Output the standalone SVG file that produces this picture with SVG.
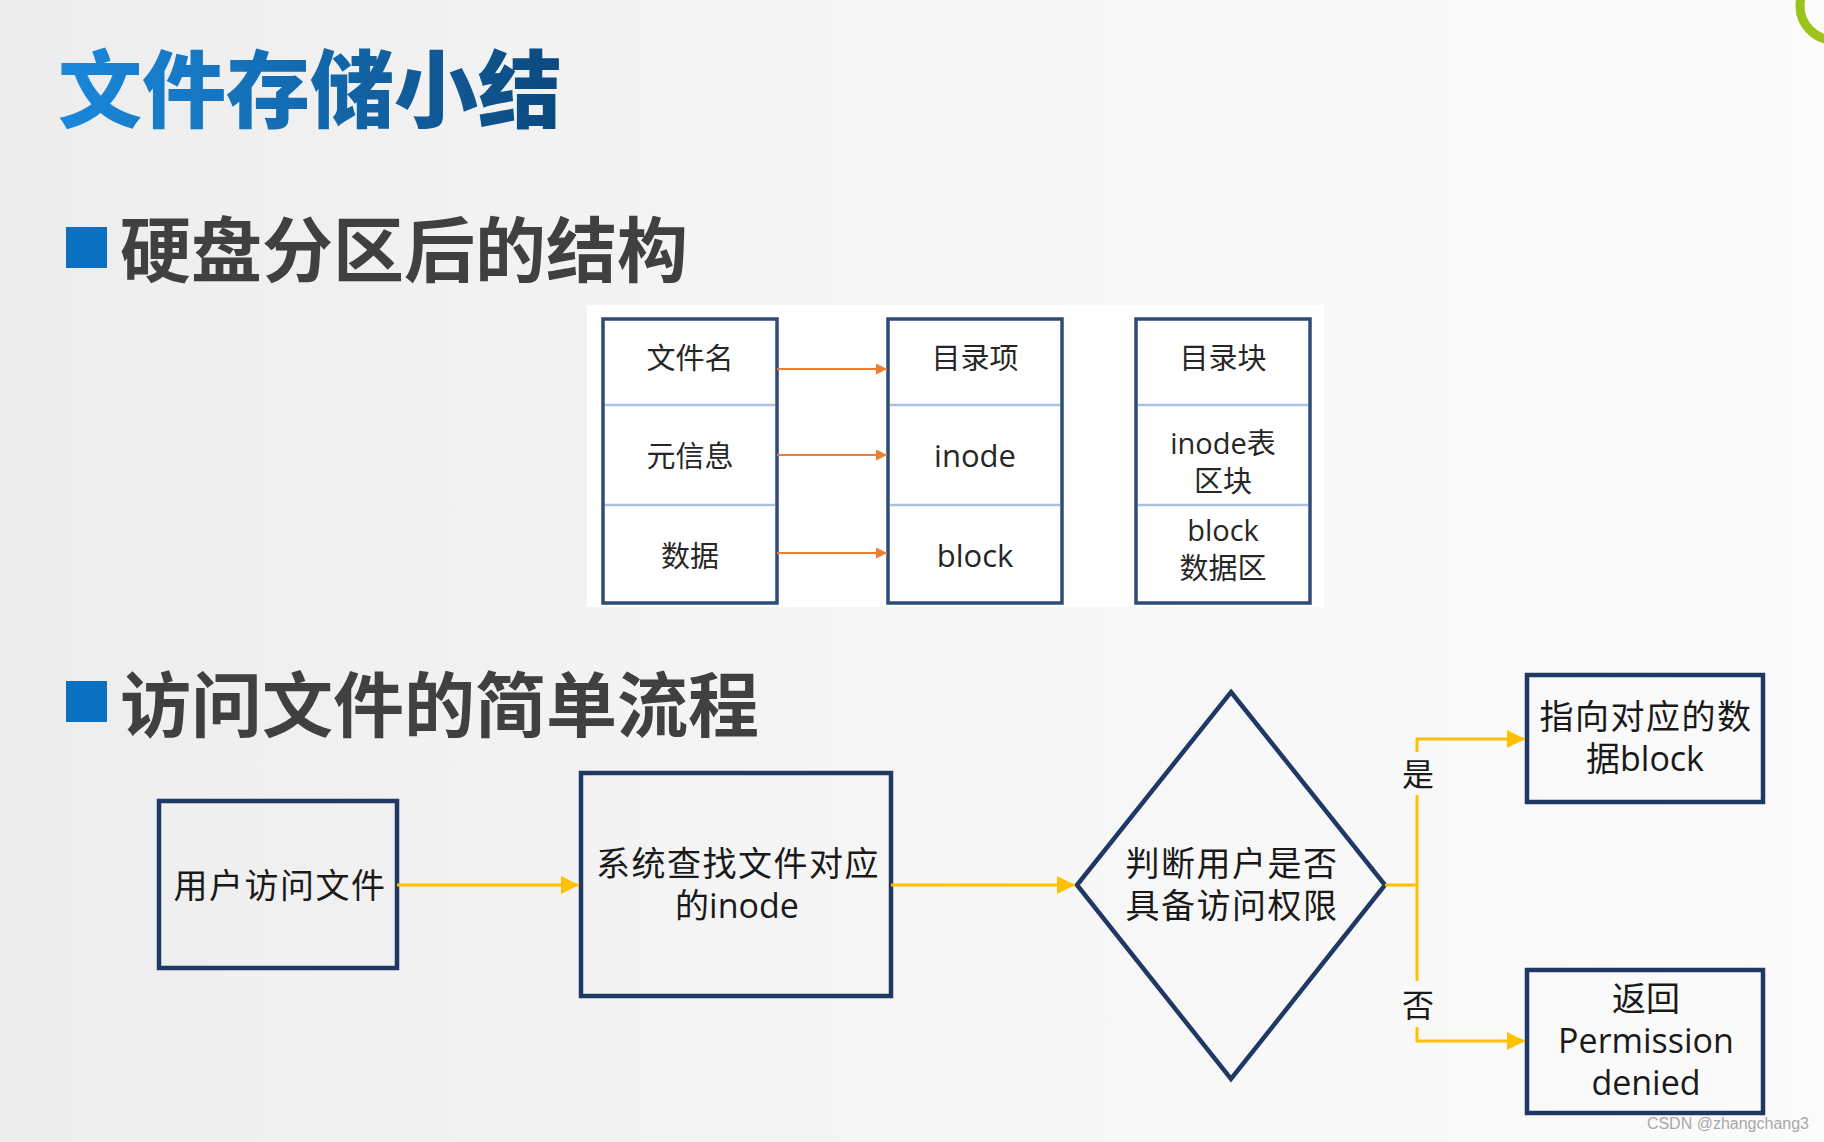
<svg xmlns="http://www.w3.org/2000/svg" width="1824" height="1142" viewBox="0 0 1824 1142">
  <defs>
    <linearGradient id="bg" x1="0" y1="0" x2="1" y2="0">
      <stop offset="0" stop-color="#ededed"/>
      <stop offset="0.5" stop-color="#f6f6f6"/>
      <stop offset="1" stop-color="#fbfbfb"/>
    </linearGradient>
    <linearGradient id="titleGrad" gradientUnits="userSpaceOnUse" x1="60" y1="0" x2="556" y2="0">
      <stop offset="0" stop-color="#1a88dc"/>
      <stop offset="1" stop-color="#0c4a80"/>
    </linearGradient>
    <marker id="arrOrange" viewBox="0 0 10 10" refX="10" refY="5" markerWidth="11" markerHeight="11" markerUnits="userSpaceOnUse" orient="auto">
      <path d="M0,0 L10,5 L0,10 z" fill="#ed7d31"/>
    </marker>
    <marker id="arrYellow" viewBox="0 0 10 10" refX="10" refY="5" markerWidth="18" markerHeight="18" markerUnits="userSpaceOnUse" orient="auto">
      <path d="M0,0 L10,5 L0,10 z" fill="#ffc000"/>
    </marker>
    <style>
      .h1 { font-family: "Noto Sans CJK SC", sans-serif; font-weight: 900; font-size: 84px; }
      .h2 { font-family: "Noto Sans CJK SC", sans-serif; font-weight: 700; font-size: 71px; fill: #404040; }
      .bullet { fill: #0b70c0; }
      .cell { fill: #ffffff; stroke: #2f4b78; stroke-width: 3.5; }
      .div { stroke: #a9c1de; stroke-width: 2.5; }
      .tt { font-family: "Open Sans", "Noto Sans CJK SC", sans-serif; font-size: 29px; fill: #262626; text-anchor: middle; dominant-baseline: central; }
      .tl { font-size: 31px; }
      .ts { font-size: 29px; }
      .box { fill: none; stroke: #1f3864; stroke-width: 4.5; }
      .ft { font-family: "Open Sans", "Noto Sans CJK SC", sans-serif; font-size: 34px; fill: #1a1a1a; text-anchor: middle; dominant-baseline: central; }
      .ls { letter-spacing: 1.5px; }
      .oline { stroke: #ed7d31; stroke-width: 2; fill: none; marker-end: url(#arrOrange); }
      .yline { stroke: #ffc000; stroke-width: 3; fill: none; }
      .yarr { marker-end: url(#arrYellow); }
      .lbl { font-family: "Noto Sans CJK SC", sans-serif; font-size: 32px; fill: #1a1a1a; text-anchor: middle; dominant-baseline: central; }
    </style>
  </defs>

  <rect x="0" y="0" width="1824" height="1142" fill="url(#bg)"/>
  <circle cx="1834" cy="6" r="34" fill="none" stroke="#9cc31b" stroke-width="9"/>

  <text class="h1" x="58" y="121" fill="url(#titleGrad)">文件存储小结</text>

  <rect class="bullet" x="66" y="227" width="41" height="41"/>
  <text class="h2" x="120" y="276">硬盘分区后的结构</text>

  <rect class="bullet" x="66" y="681" width="41" height="41"/>
  <text class="h2" x="120" y="731">访问文件的简单流程</text>

  <rect x="587" y="305" width="737" height="302" fill="#ffffff"/>

  <g id="table-file">
    <rect class="cell" x="603" y="319" width="174" height="284"/>
    <line class="div" x1="605" y1="405" x2="775" y2="405"/>
    <line class="div" x1="605" y1="505" x2="775" y2="505"/>
    <text class="tt" x="690" y="357">文件名</text>
    <text class="tt" x="690" y="455">元信息</text>
    <text class="tt" x="690" y="555">数据</text>
  </g>

  <g id="table-struct">
    <rect class="cell" x="888" y="319" width="174" height="284"/>
    <line class="div" x1="890" y1="405" x2="1060" y2="405"/>
    <line class="div" x1="890" y1="505" x2="1060" y2="505"/>
    <text class="tt" x="975" y="357">目录项</text>
    <text class="tt tl" x="975" y="455">inode</text>
    <text class="tt tl" x="975" y="555">block</text>
  </g>

  <g id="table-disk">
    <rect class="cell" x="1136" y="319" width="174" height="284"/>
    <line class="div" x1="1138" y1="405" x2="1308" y2="405"/>
    <line class="div" x1="1138" y1="505" x2="1308" y2="505"/>
    <text class="tt" x="1223" y="357">目录块</text>
    <text class="tt ts" x="1223" y="442">inode表</text>
    <text class="tt" x="1223" y="480">区块</text>
    <text class="tt ts" x="1223" y="529">block</text>
    <text class="tt" x="1223" y="567">数据区</text>
  </g>

  <g id="flow-user">
    <rect class="box" x="159" y="801" width="238" height="167"/>
    <text class="ft ls" x="280" y="885">用户访问文件</text>
  </g>

  <g id="flow-find">
    <rect class="box" x="581" y="773" width="310" height="223"/>
    <text class="ft ls" x="738" y="863">系统查找文件对应</text>
    <text class="ft" x="737" y="905">的inode</text>
  </g>

  <g id="flow-check">
    <polygon class="box" points="1231,692 1385,885 1231,1079 1077,885"/>
    <text class="ft ls" x="1232" y="863">判断用户是否</text>
    <text class="ft ls" x="1232" y="905">具备访问权限</text>
  </g>

  <g id="flow-yes">
    <rect class="box" x="1527" y="675" width="236" height="127"/>
    <text class="ft ls" x="1646" y="716">指向对应的数</text>
    <text class="ft" x="1645" y="758">据block</text>
  </g>

  <g id="flow-no">
    <rect class="box" x="1527" y="970" width="236" height="143"/>
    <text class="ft" x="1646" y="998">返回</text>
    <text class="ft" x="1646" y="1040">Permission</text>
    <text class="ft" x="1646" y="1082">denied</text>
  </g>

  <g id="connectors">
    <line class="oline" x1="777" y1="369" x2="887" y2="369"/>
    <line class="oline" x1="777" y1="455" x2="887" y2="455"/>
    <line class="oline" x1="777" y1="553" x2="887" y2="553"/>

    <line class="yline yarr" x1="397" y1="885" x2="579" y2="885"/>
    <line class="yline yarr" x1="891" y1="885" x2="1075" y2="885"/>

    <polyline class="yline" points="1385,885 1417,885"/>
    <line class="yline" x1="1417" y1="885" x2="1417" y2="795"/>
    <line class="yline" x1="1417" y1="885" x2="1417" y2="981"/>
    <polyline class="yline yarr" points="1417,752 1417,739 1525,739"/>
    <polyline class="yline yarr" points="1417,1027 1417,1041 1525,1041"/>
    <text class="lbl" x="1418" y="772">是</text>
    <text class="lbl" x="1418" y="1003">否</text>
  </g>

  <text x="1809" y="1129" text-anchor="end" font-family="Liberation Sans, sans-serif" font-size="16" fill="#a8a8a8">CSDN @zhangchang3</text>
</svg>
